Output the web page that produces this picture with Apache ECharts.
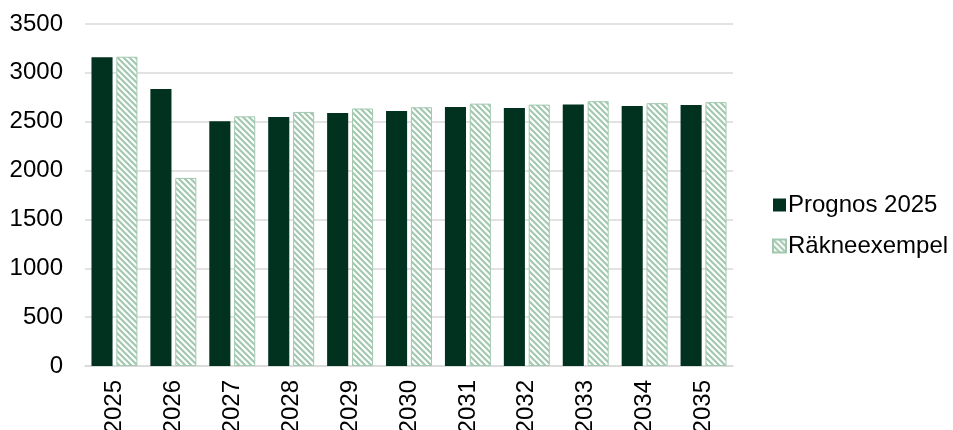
<!DOCTYPE html>
<html><head><meta charset="utf-8">
<script src="https://cdn.jsdelivr.net/npm/echarts@6/dist/echarts.min.js"></script>
<style>html,body{margin:0;padding:0;background:#fff}#c{width:953px;height:430px}</style>
</head><body><div id="c"></div>
<script>
const categories = ['2025','2026','2027','2028','2029','2030','2031','2032','2033','2034','2035'];
const prognos = [3160, 2835, 2505, 2548, 2590, 2610, 2650, 2640, 2675, 2660, 2670];
const rakne = [3165, 1925, 2555, 2600, 2635, 2648, 2685, 2675, 2710, 2690, 2700];
const yTicks = [0, 500, 1000, 1500, 2000, 2500, 3000, 3500];

function hatch(){
  const s = 6, cv = document.createElement('canvas');
  cv.width = s; cv.height = s;
  const g = cv.getContext('2d');
  g.fillStyle = '#ffffff'; g.fillRect(0,0,s,s);
  g.strokeStyle = '#a3c8b0'; g.lineWidth = 2.2;
  g.beginPath();
  g.moveTo(-1,-1); g.lineTo(s+1,s+1);
  g.moveTo(-1,s-1); g.lineTo(1,s+1);
  g.moveTo(s-1,-1); g.lineTo(s+1,1);
  g.stroke();
  return {image: cv, repeat: 'repeat'};
}
const chart = echarts.init(document.getElementById('c'));
const font = 'Liberation Sans, Arial, sans-serif';
chart.setOption({
  animation: false,
  grid: {left: 85, right: 220, top: 24, bottom: 64, containLabel: false, outerBoundsMode: 'none'},
  legend: {
    orient: 'vertical', left: 767, top: 188, itemGap: 17,
    itemWidth: 13, itemHeight: 13, icon: 'rect',
    textStyle: {fontSize: 24, color: '#000', fontFamily: font, padding: [0,0,0,-3]},
    data: ['Prognos 2025', 'Räkneexempel']
  },
  xAxis: {
    type: 'category', data: categories,
    axisLine: {show: true, lineStyle: {color: '#d9d9d9', width: 1.5}},
    axisTick: {show: false},
    axisLabel: {rotate: 90, fontSize: 24, color: '#000', fontFamily: font, margin: 14, interval: 0}
  },
  yAxis: {
    type: 'value', min: 0, max: 3500, interval: 500,
    axisLine: {show: false}, axisTick: {show: false},
    splitLine: {lineStyle: {color: '#d9d9d9', width: 1.5}},
    axisLabel: {fontSize: 24, color: '#000', fontFamily: font, margin: 22,
      formatter: v => yTicks.includes(v) ? String(v) : ''}
  },
  series: [
    {name: 'Prognos 2025', type: 'bar', data: prognos, barGap: '18%', barCategoryGap: '22%',
     itemStyle: {color: '#013220'}},
    {name: 'Räkneexempel', type: 'bar', data: rakne,
     itemStyle: {color: hatch(), borderColor: '#a3c8b0', borderWidth: 1}}
  ]
});
</script></body></html>
